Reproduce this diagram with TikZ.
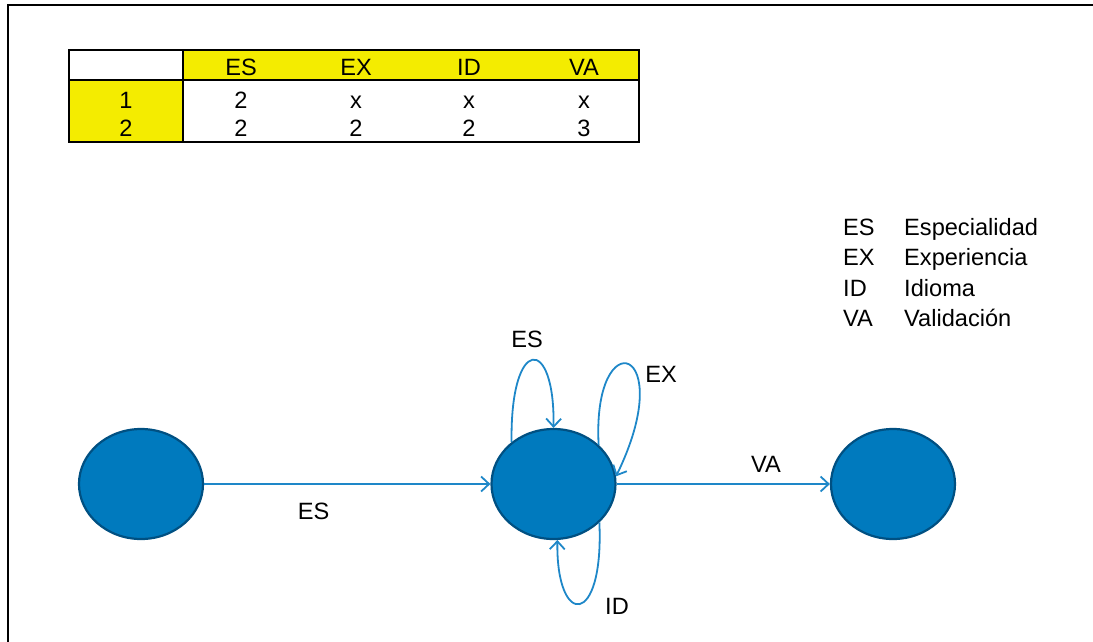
\documentclass[tikz,border=0pt]{standalone}
\usepackage{fontspec}
\setmainfont{Liberation Sans}
\usetikzlibrary{shapes.geometric,arrows.meta}
\definecolor{yel}{RGB}{244,236,0}
\definecolor{stfill}{RGB}{0,122,190}
\definecolor{stborder}{RGB}{0,80,130}
\definecolor{edgeblue}{RGB}{30,135,200}
\begin{document}
\begin{tikzpicture}[x=1pt,y=-1pt,
  state/.style={ellipse,draw=stborder,fill=stfill,line width=2.2pt,minimum width=124pt,minimum height=110pt,inner sep=0pt},
  trans/.style={draw=edgeblue,line width=1.8pt,-{Straight Barb[length=8pt,width=15pt]}},
  txt/.style={inner sep=0pt,anchor=base,font=\fontsize{23.6}{28}\selectfont},
  leg/.style={txt,anchor=base west},
  rule/.style={line width=2pt,draw=black}]
\useasboundingbox (0,0) rectangle (1093,641);
% frame
\draw[rule] (8,645) -- (8,5) -- (1098,5);
% table
\fill[yel] (183,50) rectangle (639,80);
\fill[yel] (69,80) rectangle (183,142);
\draw[rule] (69,50) rectangle (639,142);
\draw[rule] (69,80) -- (639,80);
\draw[rule] (183,50) -- (183,142);
\node[txt] (hES) at (241,75) {ES};
\node[txt] (hEX) at (356,75) {EX};
\node[txt] (hID) at (469,75) {ID};
\node[txt] (hVA) at (584,75) {VA};
\node[txt] (r1) at (126,108.5) {1};
\node[txt] (r1a) at (241,108.5) {2};
\node[txt] (r1b) at (356,108.5) {x};
\node[txt] (r1c) at (469,108.5) {x};
\node[txt] (r1d) at (584,108.5) {x};
\node[txt] (r2) at (126,136.5) {2};
\node[txt] (r2a) at (241,136.5) {2};
\node[txt] (r2b) at (356,136.5) {2};
\node[txt] (r2c) at (469,136.5) {2};
\node[txt] (r2d) at (584,136.5) {3};
% legend
\node[leg] (k1) at (843,235) {ES};
\node[leg] (d1) at (904,235) {Especialidad};
\node[leg] (k2) at (843,265.5) {EX};
\node[leg] (d2) at (904,265.5) {Experiencia};
\node[leg] (k3) at (843,296) {ID};
\node[leg] (d3) at (904,296) {Idioma};
\node[leg] (k4) at (843,326.5) {VA};
\node[leg] (d4) at (904,326.5) {Validación};
% states
\node[state] (s0) at (141,484) {};
\node[state] (s1) at (553.5,484) {};
\node[state] (s2) at (893,484) {};
% transitions
\draw[trans] (s0) -- (s1);
\draw[trans] (s1) -- (s2);
\draw[trans] (s1.135) .. controls (510,335) and (555,335) .. (s1.90);
\draw[trans] (s1.41) .. controls (592,320) and (680,345) .. (s1.7);
\draw[trans] (s1.-40) .. controls (604,628) and (556,628) .. (s1.-86);
% labels
\node[txt] (lES) at (313.5,519) {ES};
\node[txt] (lVA) at (766,472) {VA};
\node[txt] (lES2) at (527,347) {ES};
\node[txt] (lEX) at (661,382) {EX};
\node[txt] (lID) at (617,614) {ID};
\end{tikzpicture}
\end{document}
